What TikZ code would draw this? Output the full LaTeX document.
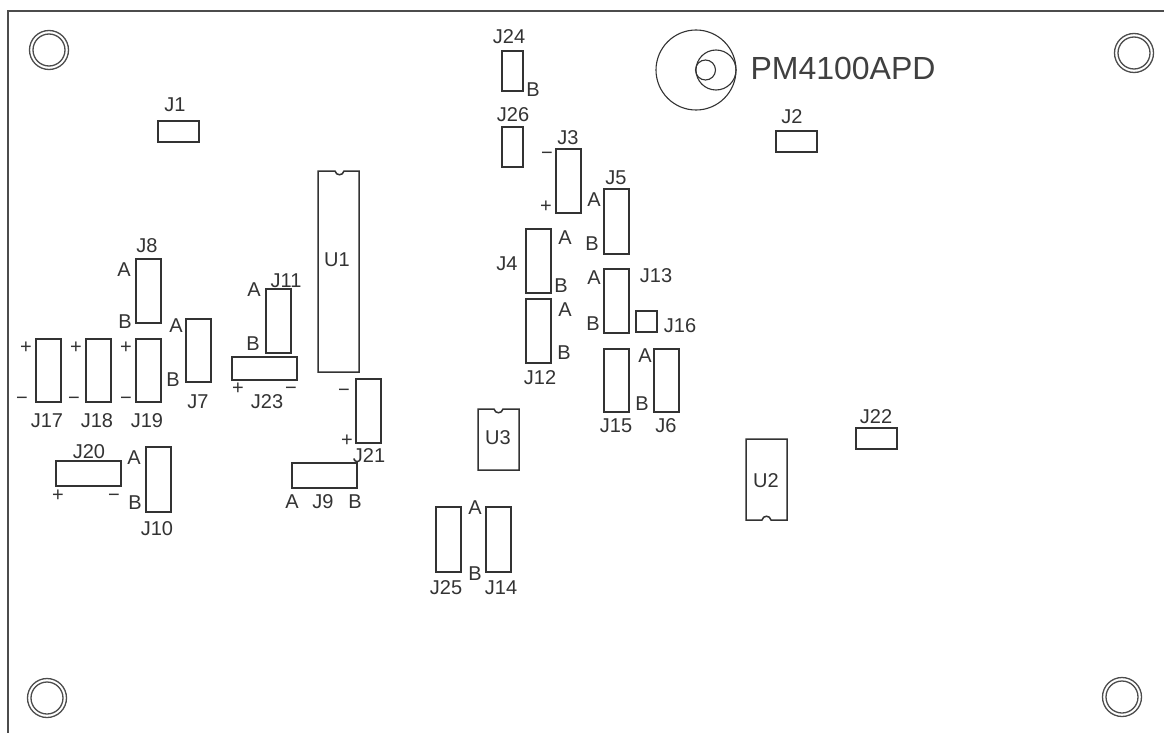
\documentclass[tikz,border=0pt]{standalone}
\usepackage{fontspec}
\setmainfont{Liberation Sans}
\newcommand{\pcbrect}[4]{\draw[partline] (#1,#2) rectangle (#3,#4);}
\newcommand{\pcblab}[3]{\node[lab] at (#1,#2) {#3};}
\newcommand{\pcbsign}[3]{\node[lab] at (#1,#2+7) {#3};}
\newcommand{\pcbhole}[2]{\draw[holeline] (#1,#2) circle (19.5) (#1,#2) circle (16);}
\begin{document}
\begin{tikzpicture}[x=1pt,y=-1pt,
  partline/.style={draw=black!80,line width=1.5pt,line join=miter},
  holeline/.style={draw=black!70,line width=1.3pt},
  thinline/.style={draw=black!80,line width=1.1pt},
  boardline/.style={draw=black!70,line width=1.9pt},
  lab/.style={anchor=base,inner sep=0pt,outer sep=0pt,font=\fontsize{20}{20}\selectfont,text=black!80},
  bigtext/.style={anchor=base,inner sep=0pt,outer sep=0pt,font=\fontsize{32}{32}\selectfont,text=black!75}]
\useasboundingbox (0,0) rectangle (1164,733);
\fill[white] (0,0) rectangle (1164,733);
% board edge
\draw[boardline] (1164,11) -- (8,11) -- (8,733);
% mounting holes
\pcbhole{49}{50}
\pcbhole{1134}{53}
\pcbhole{47}{698}
\pcbhole{1122}{697}
% photodiode
\draw[thinline] (696,70) circle (40);
\draw[thinline] (716,70) circle (20);
\draw[thinline] (705.5,70) circle (10);
\node[bigtext] at (843,80) {PM4100APD};
% jumpers
\pcbrect{158}{121}{199}{142}
\pcbrect{776}{131}{817}{152}
\pcbrect{502}{51}{523}{91}
\pcbrect{502}{127}{523}{167}
\pcbrect{556}{149}{581}{213}
\pcbrect{604}{189}{629}{254}
\pcbrect{526}{229}{551}{293}
\pcbrect{604}{269}{629}{333}
\pcbrect{526}{299}{551}{363}
\pcbrect{636}{311}{657}{332}
\pcbrect{604}{349}{629}{412}
\pcbrect{654}{349}{679}{412}
\pcbrect{436}{507}{461}{572}
\pcbrect{486}{507}{511}{572}
\pcbrect{856}{428}{897}{449}
\pcbrect{136}{259}{161}{323}
\pcbrect{186}{319}{211}{382}
\pcbrect{36}{339}{61}{402}
\pcbrect{86}{339}{111}{402}
\pcbrect{136}{339}{161}{402}
\pcbrect{266}{289}{291}{353}
\pcbrect{232}{357}{297}{380}
\pcbrect{356}{379}{381}{443}
\pcbrect{292}{463}{357}{488}
\pcbrect{56}{461}{121}{486}
\pcbrect{146}{447}{171}{512}
% ICs with notches
\draw[partline] (318,171) -- (335,171) .. controls (336,176) and (343,176) .. (344,171) -- (359,171) -- (359,372) -- (318,372) -- cycle;
\draw[partline] (478,409) -- (494,409) .. controls (495,414) and (502,414) .. (503,409) -- (519,409) -- (519,470) -- (478,470) -- cycle;
\draw[partline] (746,439) -- (787,439) -- (787,520) -- (771,520) .. controls (770,515) and (763,515) .. (762,520) -- (746,520) -- cycle;
% designators
\pcblab{175}{112}{J1}
\pcblab{792}{124}{J2}
\pcblab{568}{144}{J3}
\pcblab{507}{270}{J4}
\pcblab{616}{184}{J5}
\pcblab{666}{432}{J6}
\pcblab{198}{408}{J7}
\pcblab{147}{252}{J8}
\pcblab{323}{508}{J9}
\pcblab{157}{535}{J10}
\pcblab{286}{287}{J11}
\pcblab{540}{384}{J12}
\pcblab{656}{282}{J13}
\pcblab{501}{594}{J14}
\pcblab{616}{432}{J15}
\pcblab{680}{332}{J16}
\pcblab{47}{427}{J17}
\pcblab{97}{427}{J18}
\pcblab{147}{427}{J19}
\pcblab{89}{458}{J20}
\pcblab{369}{462}{J21}
\pcblab{876}{423}{J22}
\pcblab{267}{408}{J23}
\pcblab{509}{44}{J24}
\pcblab{446}{594}{J25}
\pcblab{513}{122}{J26}
\pcblab{337}{266}{U1}
\pcblab{766}{487}{U2}
\pcblab{498}{444}{U3}
% A / B marks
\pcblab{124}{276}{A}\pcblab{125}{328}{B}
\pcblab{176}{332}{A}\pcblab{173}{386}{B}
\pcblab{254}{296}{A}\pcblab{253}{350}{B}
\pcblab{292}{508}{A}\pcblab{355}{508}{B}
\pcblab{134}{464}{A}\pcblab{135}{509}{B}
\pcblab{533}{97}{B}
\pcblab{594}{206}{A}\pcblab{592}{250}{B}
\pcblab{565}{244}{A}\pcblab{561}{292}{B}
\pcblab{594}{284}{A}\pcblab{593}{330}{B}
\pcblab{565}{316}{A}\pcblab{564}{359}{B}
\pcblab{645}{362}{A}\pcblab{642}{410}{B}
\pcblab{475}{514}{A}\pcblab{475}{580}{B}
% polarity marks
\pcbsign{26}{346}{+}\pcbsign{22}{397}{−}
\pcbsign{76}{346}{+}\pcbsign{74}{397}{−}
\pcbsign{126}{346}{+}\pcbsign{126}{397}{−}
\pcbsign{238}{387}{+}\pcbsign{291}{387}{−}
\pcbsign{344}{389}{−}\pcbsign{347}{439}{+}
\pcbsign{58}{494}{+}\pcbsign{114}{494}{−}
\pcbsign{547}{153}{−}\pcbsign{546}{205}{+}
\end{tikzpicture}
\end{document}
